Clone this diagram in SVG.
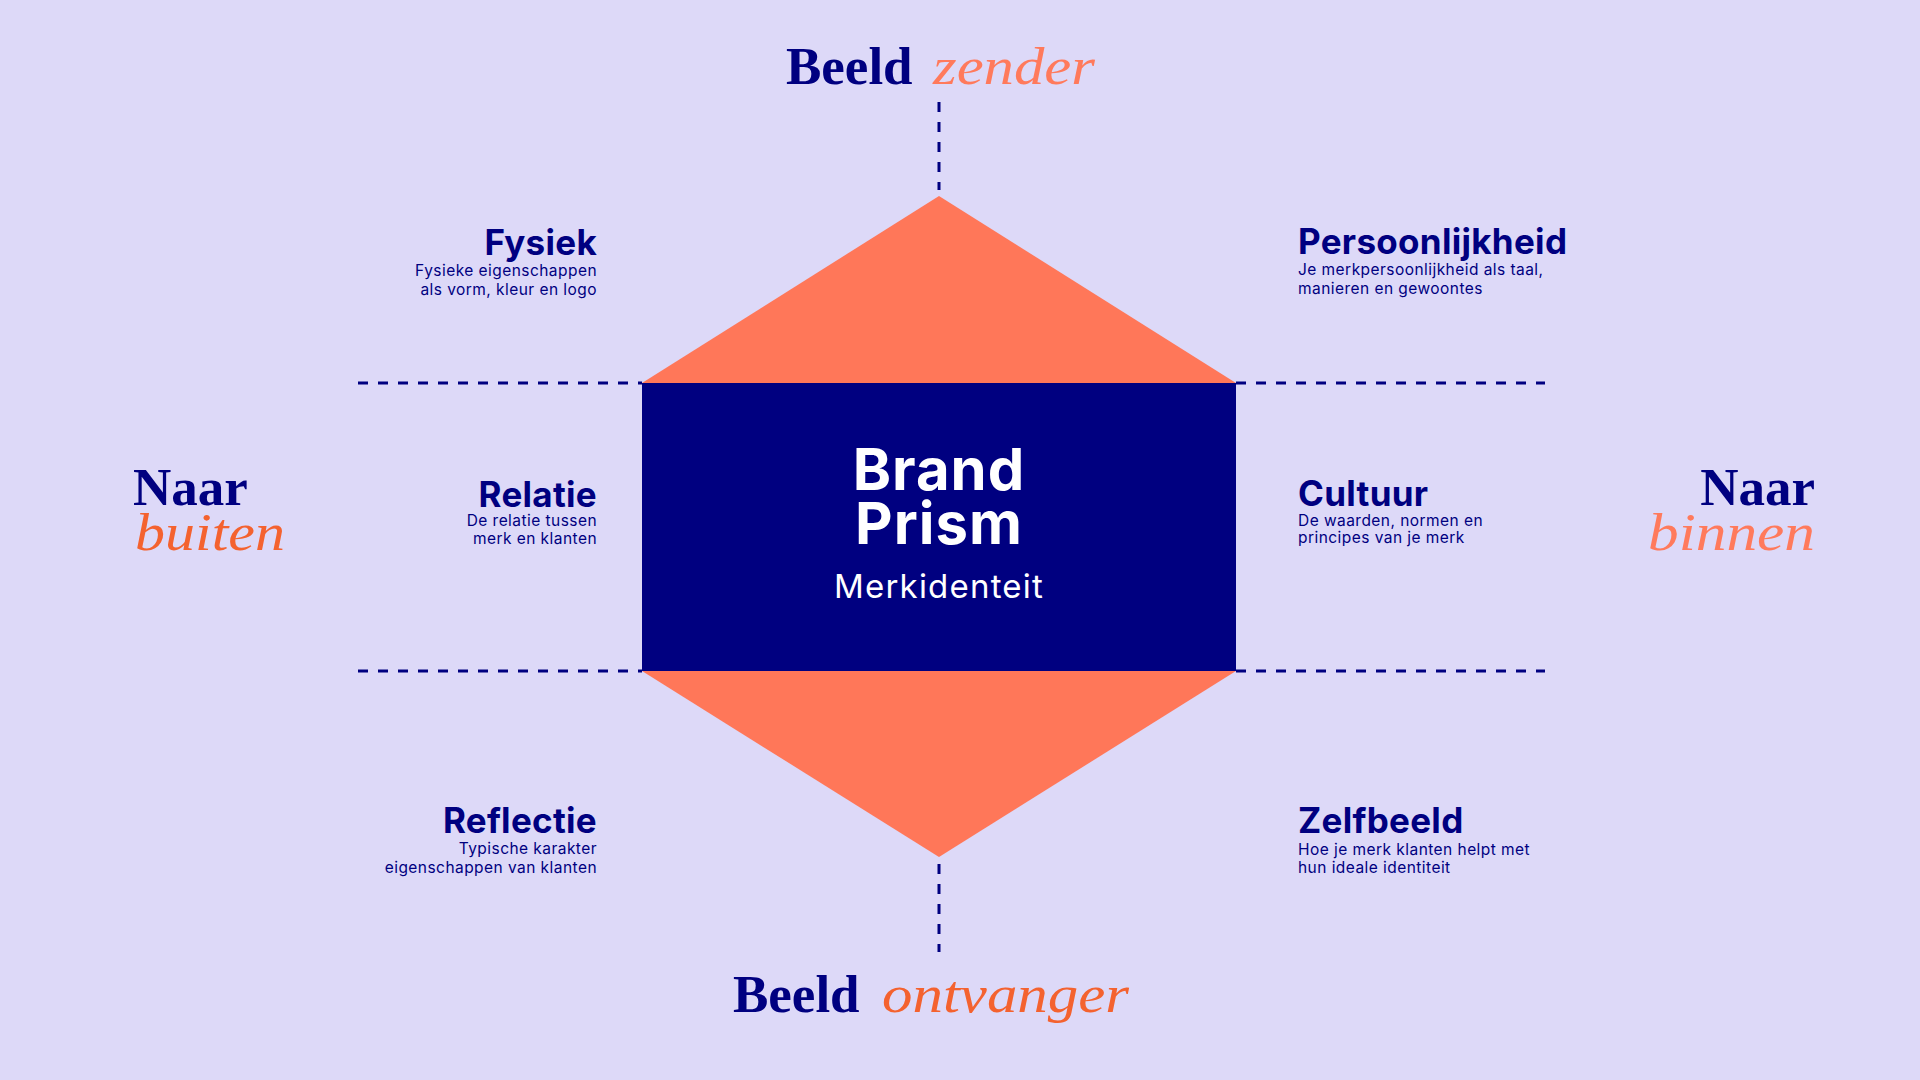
<svg xmlns="http://www.w3.org/2000/svg" width="1920" height="1080" viewBox="0 0 1920 1080">
<style>
.serif{font-family:"Liberation Serif","Times New Roman",serif;font-size:53px}
.bold{font-weight:700;fill:#000080}
.ital{font-style:italic}
.o1{fill:#F4622F}
.o2{fill:#FF7A5C}
.title{font-family:Inter,"Noto Sans",sans-serif;font-weight:700;font-size:35px;letter-spacing:0.3px;fill:#000080}
.desc{font-family:Inter,"Noto Sans",sans-serif;font-size:15.5px;letter-spacing:0.45px;fill:#000080}
.dash{stroke:#000080;stroke-width:3;stroke-dasharray:10 10;fill:none}
.center{font-family:Inter,"Noto Sans",sans-serif;fill:#ffffff;text-anchor:middle}
</style>
<rect width="1920" height="1080" fill="#DDD9F8"/>
<g id="connectors">
<line class="dash" x1="939" y1="102" x2="939" y2="190"/>
<line class="dash" x1="939" y1="864" x2="939" y2="952"/>
<line class="dash" x1="358" y1="383" x2="642" y2="383"/>
<line class="dash" x1="358" y1="671" x2="642" y2="671"/>
<line class="dash" x1="1236" y1="383" x2="1545" y2="383"/>
<line class="dash" x1="1236" y1="671" x2="1545" y2="671"/>
</g>
<g id="prism">
<polygon points="642,383 939,196 1236,383 1236,671 939,857 642,671" fill="#FF7759"/>
<rect x="642" y="383" width="594" height="288" fill="#000080"/>
<text class="center" x="939" y="490" font-size="58" font-weight="700" letter-spacing="1">Brand</text>
<text class="center" x="939" y="544" font-size="58" font-weight="700" letter-spacing="1">Prism</text>
<text class="center" x="939" y="598" font-size="33" letter-spacing="1.2">Merkidenteit</text>
</g>
<g id="beeld-zender">
<text class="serif bold" x="786" y="84">Beeld</text>
<text class="serif ital o2" x="933" y="84" textLength="162" lengthAdjust="spacingAndGlyphs">zender</text>
</g>
<g id="beeld-ontvanger">
<text class="serif bold" x="733" y="1012">Beeld</text>
<text class="serif ital o1" x="882" y="1012" textLength="247" lengthAdjust="spacingAndGlyphs">ontvanger</text>
</g>
<g id="naar-buiten">
<text class="serif bold" x="133" y="505">Naar</text>
<text class="serif ital o1" x="135" y="550" textLength="150" lengthAdjust="spacingAndGlyphs">buiten</text>
</g>
<g id="naar-binnen">
<text class="serif bold" x="1815" y="505" text-anchor="end">Naar</text>
<text class="serif ital o2" x="1648" y="550" textLength="167" lengthAdjust="spacingAndGlyphs">binnen</text>
</g>
<g id="fysiek" text-anchor="end">
<text class="title" x="597" y="255">Fysiek</text>
<text class="desc" x="597" y="276">Fysieke eigenschappen</text>
<text class="desc" x="597" y="295">als vorm, kleur en logo</text>
</g>
<g id="persoonlijkheid">
<text class="title" x="1298" y="254">Persoonlijkheid</text>
<text class="desc" x="1298" y="275">Je merkpersoonlijkheid als taal,</text>
<text class="desc" x="1298" y="294">manieren en gewoontes</text>
</g>
<g id="relatie" text-anchor="end">
<text class="title" x="597" y="507">Relatie</text>
<text class="desc" x="597" y="526">De relatie tussen</text>
<text class="desc" x="597" y="544">merk en klanten</text>
</g>
<g id="cultuur">
<text class="title" x="1298" y="506">Cultuur</text>
<text class="desc" x="1298" y="526">De waarden, normen en</text>
<text class="desc" x="1298" y="543">principes van je merk</text>
</g>
<g id="reflectie" text-anchor="end">
<text class="title" x="597" y="833">Reflectie</text>
<text class="desc" x="597" y="854">Typische karakter</text>
<text class="desc" x="597" y="873">eigenschappen van klanten</text>
</g>
<g id="zelfbeeld">
<text class="title" x="1298" y="833">Zelfbeeld</text>
<text class="desc" x="1298" y="855">Hoe je merk klanten helpt met</text>
<text class="desc" x="1298" y="873">hun ideale identiteit</text>
</g>
</svg>
